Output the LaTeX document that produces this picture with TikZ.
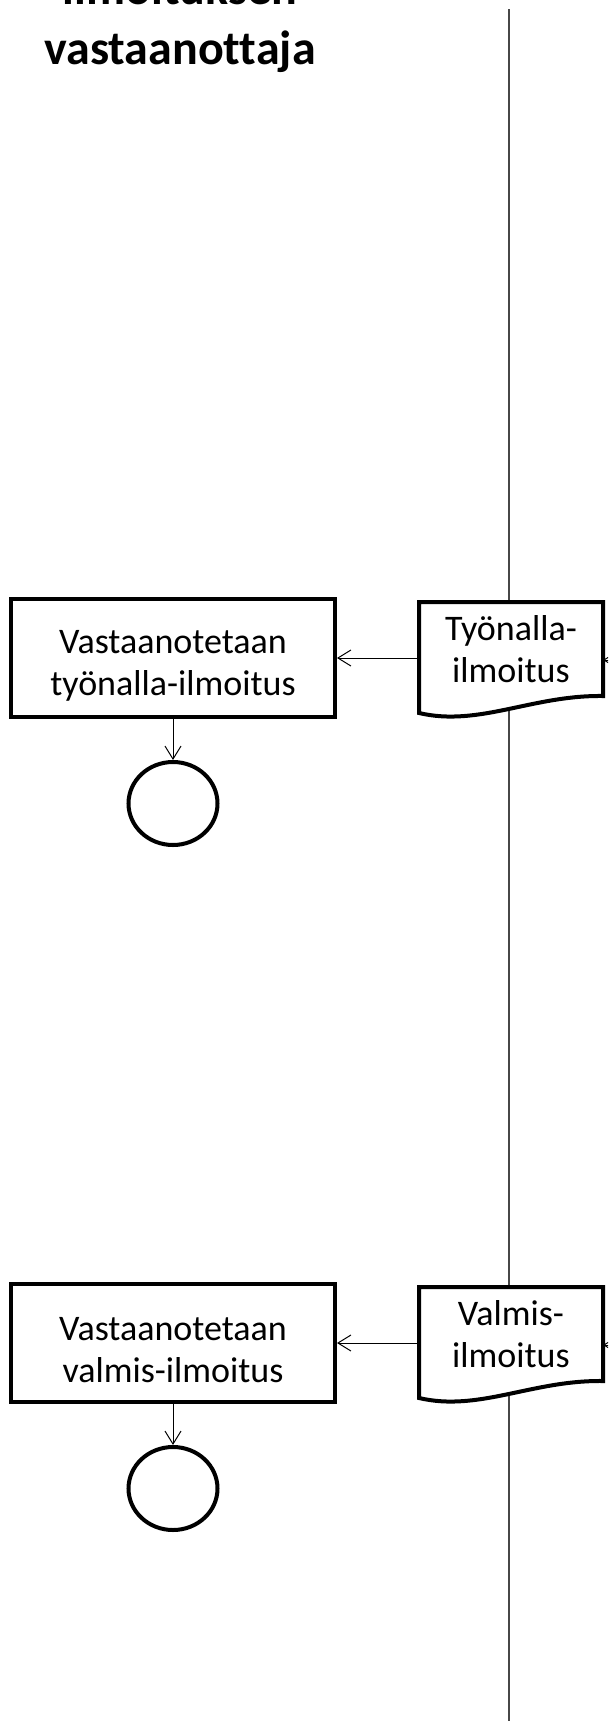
\documentclass[tikz,border=0pt]{standalone}
\usepackage{fontspec}
\setmainfont[Ligatures=CommonOff]{Carlito}
\usetikzlibrary{arrows.meta,shapes.geometric,backgrounds}
\newcommand{\ylinja}{\rule{0pt}{38pt}}
\begin{document}
\begin{tikzpicture}[x=1pt,y=-1pt,
    laatikko/.style={draw,line width=4pt,rectangle,minimum width=324pt,minimum height=118pt,inner sep=0pt,align=center,font=\fontsize{36}{42}\selectfont},
    dokumentti/.style={rectangle,minimum width=180pt,minimum height=90pt,inner sep=0pt,outer sep=2pt,align=center,font=\fontsize{36}{42}\selectfont},
    reuna/.style={draw,fill=white,line width=4pt},
    loppu/.style={draw,line width=4pt,ellipse,minimum width=89pt,minimum height=83pt,inner sep=0pt},
    otsikko/.style={anchor=base,font=\fontsize{48}{58}\selectfont\bfseries},
    kaista/.style={draw=black!72,line width=1.8pt},
    nuoli/.style={line width=1pt,-{Straight Barb[length=13pt,width=16pt]}}]
      \useasboundingbox (0,0) rectangle (608,1721);
      \clip (0,0) rectangle (608,1721);
      \node[otsikko] (otsikko1) at (180,5) {ilmoituksen};
      \node[otsikko] (otsikko2) at (180,64) {vastaanottaja};
      \coordinate (kaistaA) at (509,9);
      \coordinate (kaistaB) at (509,1721);
      \node[laatikko] (b1) at (173,658) {\ylinja Vastaanotetaan\\työnalla-ilmoitus};
      \node[loppu] (c1) at (173,803.5) {};
      \node[dokumentti] (d1) at (511,649) {Työnalla-\\ilmoitus};
      \coordinate (tulo1) at (640,660);
      \node[laatikko] (b2) at (173,1343) {\ylinja Vastaanotetaan\\valmis-ilmoitus};
      \node[loppu] (c2) at (173,1488.5) {};
      \node[dokumentti] (d2) at (511,1334) {Valmis-\\ilmoitus};
      \coordinate (tulo2) at (640,1345);
      \begin{pgfonlayer}{background}
        \draw[kaista] (kaistaA) -- (kaistaB);
        \path[reuna] ([yshift=-17pt]d1.south west) -- (d1.north west) -- (d1.north east) -- (d1.south east)
          .. controls ([xshift=-71pt,yshift=1pt]d1.south east) and ([xshift=60pt,yshift=-31pt]d1.south west) .. ([yshift=-17pt]d1.south west) -- cycle;
        \path[reuna] ([yshift=-17pt]d2.south west) -- (d2.north west) -- (d2.north east) -- (d2.south east)
          .. controls ([xshift=-71pt,yshift=1pt]d2.south east) and ([xshift=60pt,yshift=-31pt]d2.south west) .. ([yshift=-17pt]d2.south west) -- cycle;
      \end{pgfonlayer}
      \begin{scope}[nuoli]
        \draw (tulo1) to (tulo1 -| d1.east);
        \draw (d1.west |- b1.east) to (b1.east);
        \draw (b1) to (c1);
        \draw (tulo2) to (tulo2 -| d2.east);
        \draw (d2.west |- b2.east) to (b2.east);
        \draw (b2) to (c2);
      \end{scope}
    \end{tikzpicture}
\end{document}
